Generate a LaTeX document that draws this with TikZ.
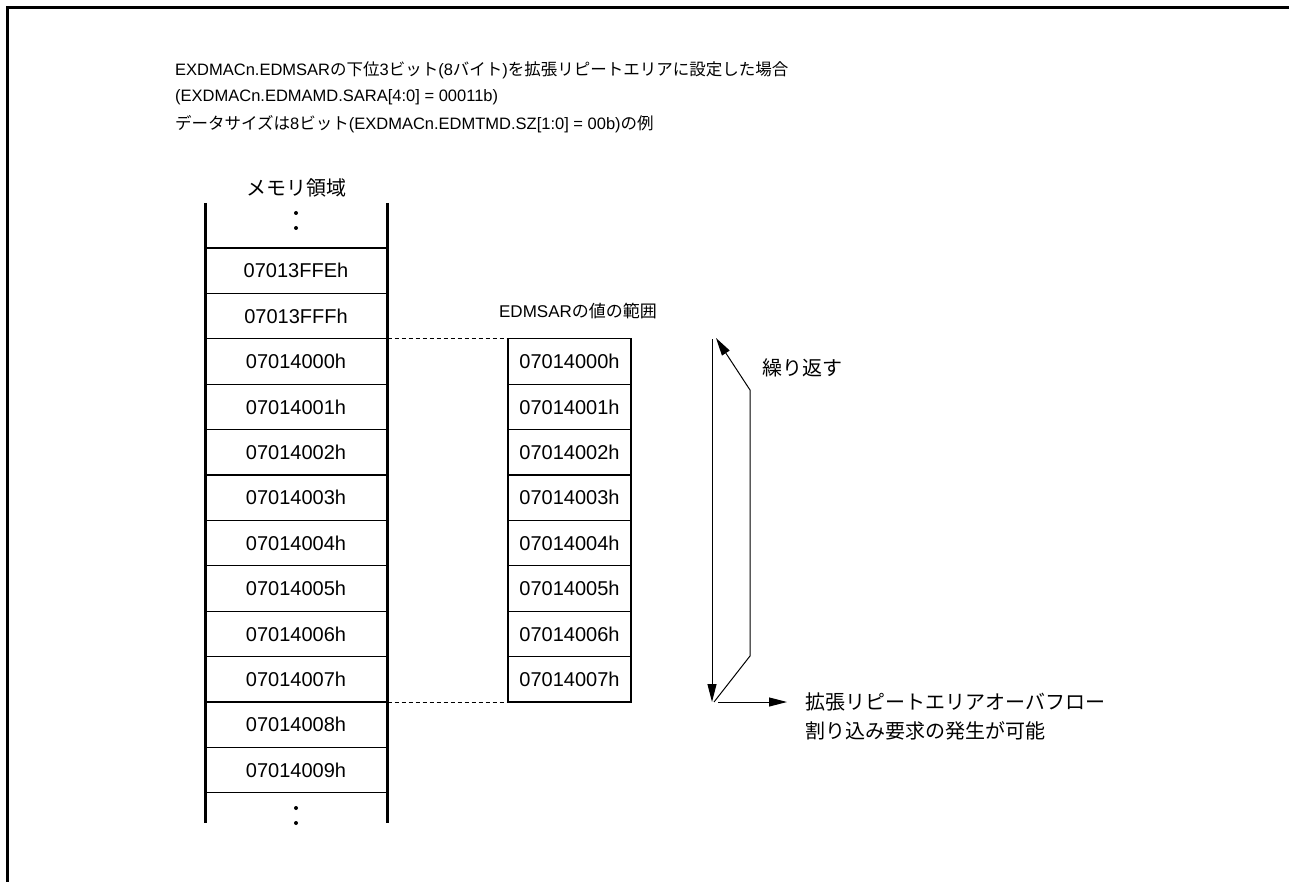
\documentclass[tikz,border=0pt]{standalone}
\usepackage{fontspec}
\setmainfont{Liberation Sans}
\newfontfamily\jp{Noto Sans CJK JP}
\usetikzlibrary{arrows.meta}

\begin{document}
\begin{tikzpicture}[x=1pt,y=-1pt,
  txt/.style={font=\fontsize{20}{27}\selectfont, inner sep=0pt},
  hdr/.style={font=\fontsize{16.5}{27}\selectfont, inner sep=0pt, anchor=west},
  cellL/.style={txt, draw, line width=1.2pt, minimum width=182pt, minimum height=45.4pt},
  cellR/.style={txt, draw, line width=1.2pt, minimum width=123pt, minimum height=45.4pt},
  tip/.style={-{Triangle[length=18pt,width=9pt]}, line width=1pt}]
\useasboundingbox (0,0) rectangle (1289,882);
% frame (top and left only)
\draw[line width=3pt] (1289,8) -- (7,8) -- (7,882);
% heading
\node[hdr] (h1) at (175,70) {EXDMACn.EDMSAR{\jp の下位}3{\jp ビット}(8{\jp バイト}){\jp を拡張リピートエリアに設定した場合}};
\node[hdr] (h2) at (175,97) {(EXDMACn.EDMAMD.SARA[4:0] = 00011b)};
\node[hdr] (h3) at (175,124) {{\jp データサイズは}8{\jp ビット}(EXDMACn.EDMTMD.SZ[1:0] = 00b){\jp の例}};
% memory column
\node[txt] (mem) at (296,188) {\jp メモリ領域};
\foreach \lbl [count=\i from 0] in {07013FFEh,07013FFFh,07014000h,07014001h,07014002h,07014003h,
    07014004h,07014005h,07014006h,07014007h,07014008h,07014009h}
  \node[cellL] (L\i) at (296,{270.7+45.4*\i}) {\lbl};
\draw[line width=3pt] (205,203) -- (205,823);
\draw[line width=3pt] (387,203) -- (387,823);
% dots above and below
\foreach \y in {213,228,808,823}
  \fill (296,\y) circle (2pt);
% range of EDMSAR
\node[txt, font=\fontsize{17}{20}\selectfont] (rng) at (578,311) {EDMSAR{\jp の値の範囲}};
\foreach \i in {2,...,9}
  \node[cellR] (R\i) at (569.5,{270.7+45.4*\i}) {0701400\the\numexpr\i-2\relax h};
\draw[dashed, dash pattern=on 4pt off 3pt, line width=1pt] (L2.north east) -- (R2.north west);
\draw[dashed, dash pattern=on 4pt off 3pt, line width=1pt] (L9.south east) -- (R9.south west);
% repeat arrow
\coordinate (dn0) at (712,339);
\coordinate (dn1) at (712,702);
\coordinate (up0) at (714,702);
\coordinate (up1) at (750,656);
\coordinate (up2) at (750,390);
\coordinate (up3) at (716,338);
\draw[tip] (dn0) -- (dn1);
\draw[tip] (up0) -- (up1) -- (up2) -- (up3);
\node[txt, anchor=west] (rep) at (762,368) {\jp 繰り返す};
% overflow
\coordinate (ov0) at (718,702);
\coordinate (ov1) at (787,702);
\draw[tip] (ov0) -- (ov1);
\node[txt, anchor=west] (ov) at (805,702) {\jp 拡張リピートエリアオーバフロー};
\node[txt, anchor=west] (irq) at (805,731) {\jp 割り込み要求の発生が可能};
\end{tikzpicture}
\end{document}
